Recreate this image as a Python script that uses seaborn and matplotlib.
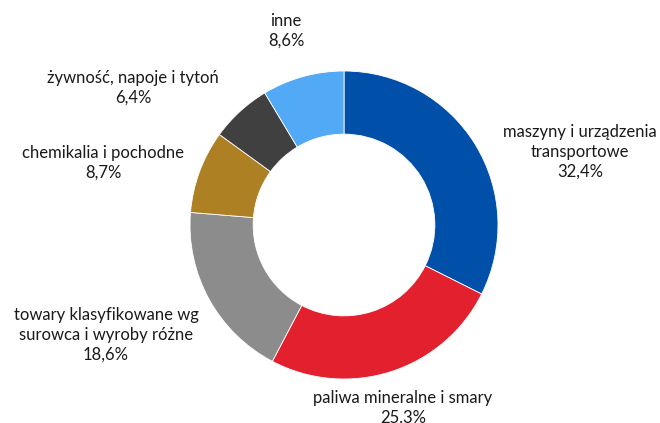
import matplotlib.pyplot as plt
import seaborn as sns

categories = [
    "maszyny i urządzenia\ntransportowe",
    "paliwa mineralne i smary",
    "towary klasyfikowane wg\nsurowca i wyroby różne",
    "chemikalia i pochodne",
    "żywność, napoje i tytoń",
    "inne",
]
shares = [32.4, 25.3, 18.6, 8.7, 6.4, 8.6]
colors = ["#0050AA", "#E3202E", "#8C8C8C", "#AD8123", "#404040", "#52A9F5"]

# label block centres (pixels in the 660x423 picture)
label_px = [(580, 152), (403, 408), (106, 335), (103, 163), (133, 88), (286, 31)]

sns.set_theme(style="white")
plt.rcParams["font.family"] = ["Lato", "DejaVu Sans"]

W, H = 660, 423
cx, cy, R = 344, 225, 154

fig = plt.figure(figsize=(W / 100, H / 100), dpi=100)
ax = fig.add_axes([0, 0, 1, 1])
ax.pie(shares, colors=colors, startangle=90, counterclock=False, radius=1,
       wedgeprops=dict(width=0.41, edgecolor="white", linewidth=0.6))
ax.set_xlim(-cx / R, (W - cx) / R)
ax.set_ylim(-(H - cy) / R, cy / R)
ax.set_aspect("equal")
ax.axis("off")

for name, val, (px, py) in zip(categories, shares, label_px):
    txt = f"{name}\n{val:.1f}%".replace(".", ",")
    ax.text((px - cx) / R, (cy - py) / R, txt, ha="center", va="center",
            fontsize=12, color="#1a1a1a", linespacing=1.3,
            transform=ax.transData)

fig.savefig("out.png", dpi=100)
